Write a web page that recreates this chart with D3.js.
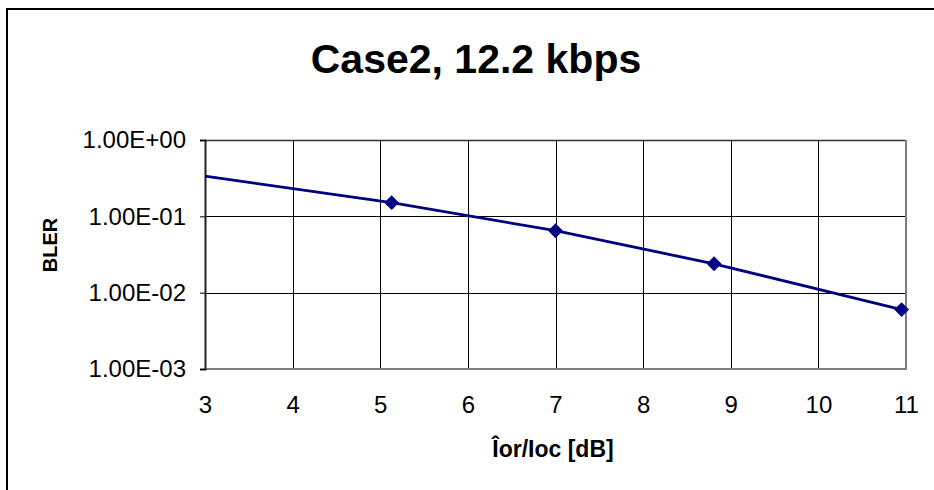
<!DOCTYPE html>
<html>
<head>
<meta charset="utf-8">
<script src="https://cdn.jsdelivr.net/npm/d3@7"></script>
<style>
  html, body { margin: 0; padding: 0; background: #fff; }
  svg { display: block; font-family: "Liberation Sans", Arial, sans-serif; }
</style>
</head>
<body>
<svg id="chart" width="934" height="490"></svg>
<script>
// ---- data ----
const chartTitle = "Case2, 12.2 kbps";
const xTitle = "Îor/Ioc [dB]";
const yTitle = "BLER";
const iorDb = [3, 5.13, 7.0, 8.81, 10.95];          // x values of the curve
const bler  = [0.337, 0.151, 0.0648, 0.0239, 0.0060]; // y values of the curve
const hasMarker = [false, true, true, true, true];
const xTicks = [3, 4, 5, 6, 7, 8, 9, 10, 11];
const yTicks = [1, 0.1, 0.01, 0.001];
const yTickLabels = ["1.00E+00", "1.00E-01", "1.00E-02", "1.00E-03"];

// ---- layout ----
const svg = d3.select("#chart");
const plot = { left: 205, right: 906, top: 140, bottom: 369 };

const x = d3.scaleLinear().domain([3, 11]).range([plot.left, plot.right]);
const y = d3.scaleLog().domain([0.001, 1]).range([plot.bottom, plot.top]);

// outer chart border (top & left visible)
svg.append("path")
  .attr("d", `M7,490 L7,9 L934,9`)
  .attr("fill", "none").attr("stroke", "#000").attr("stroke-width", 2);

// title
svg.append("text")
  .attr("x", 476).attr("y", 73)
  .attr("text-anchor", "middle")
  .attr("font-weight", "bold").attr("font-size", 41)
  .text(chartTitle);

// gridlines
const g = svg.append("g");
g.selectAll("line.vg").data(xTicks.slice(1, -1)).join("line")
  .attr("x1", d => Math.round(x(d)) + 0.5).attr("x2", d => Math.round(x(d)) + 0.5)
  .attr("y1", plot.top).attr("y2", plot.bottom)
  .attr("stroke", "#000").attr("stroke-width", 1);
g.selectAll("line.hg").data(yTicks.slice(1, -1)).join("line")
  .attr("x1", plot.left).attr("x2", plot.right)
  .attr("y1", d => Math.round(y(d)) + 0.5).attr("y2", d => Math.round(y(d)) + 0.5)
  .attr("stroke", "#000").attr("stroke-width", 1);

// plot border: top black, right & bottom gray
svg.append("line").attr("x1", plot.left).attr("x2", plot.right)
  .attr("y1", plot.top + 0.5).attr("y2", plot.top + 0.5)
  .attr("stroke", "#333").attr("stroke-width", 1.5);
svg.append("path")
  .attr("d", `M${plot.right},${plot.top} L${plot.right},${plot.bottom} L${plot.left},${plot.bottom}`)
  .attr("fill", "none").attr("stroke", "#808080").attr("stroke-width", 2);

// y axis
const yAxis = d3.axisLeft(y).tickValues(yTicks)
  .tickFormat((d, i) => yTickLabels[i]).tickSize(5).tickPadding(14);
const ya = svg.append("g").attr("transform", `translate(${plot.left},0)`).call(yAxis);
ya.select(".domain").attr("stroke", "#222").attr("stroke-width", 2);
ya.selectAll(".tick line").attr("stroke", "#000");
ya.selectAll("text").attr("font-size", 24).attr("fill", "#000")
  .attr("font-family", "\"Liberation Sans\", Arial, sans-serif");

// x axis labels (no visible ticks at bottom)
const xAxis = d3.axisBottom(x).tickValues(xTicks).tickFormat(d3.format("d"))
  .tickSize(0).tickPadding(27);
const xa = svg.append("g").attr("transform", `translate(0,${plot.bottom})`).call(xAxis);
xa.select(".domain").remove();
xa.selectAll("text").attr("font-size", 24).attr("fill", "#000")
  .attr("font-family", "\"Liberation Sans\", Arial, sans-serif");

// axis titles
svg.append("text")
  .attr("x", 553).attr("y", 457)
  .attr("text-anchor", "middle")
  .attr("font-weight", "bold").attr("font-size", 23)
  .text(xTitle);
svg.append("text")
  .attr("transform", `translate(57,245) rotate(-90)`)
  .attr("text-anchor", "middle")
  .attr("font-weight", "bold").attr("font-size", 20)
  .text(yTitle);

// series line
const pts = iorDb.map((v, i) => ({ x: v, y: bler[i], m: hasMarker[i] }));
svg.append("path")
  .datum(pts)
  .attr("d", d3.line().x(d => x(d.x)).y(d => y(d.y)))
  .attr("fill", "none").attr("stroke", "#000080").attr("stroke-width", 2.8);

// diamond markers
const diamond = d3.symbol().type(d3.symbolSquare).size(110);
svg.selectAll("path.mk").data(pts.filter(d => d.m)).join("path")
  .attr("class", "mk")
  .attr("d", diamond)
  .attr("transform", d => `translate(${x(d.x)},${y(d.y)}) rotate(45)`)
  .attr("fill", "#000080");
</script>
</body>
</html>
